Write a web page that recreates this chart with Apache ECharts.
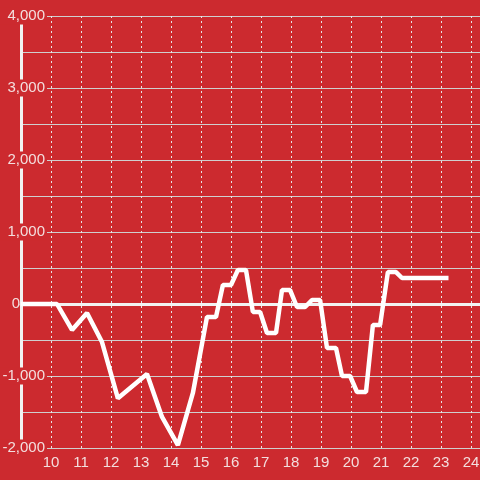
<!DOCTYPE html>
<html>
<head>
<meta charset="utf-8">
<script src="https://cdn.jsdelivr.net/npm/echarts@6/dist/echarts.min.js"></script>
<style>
  html, body { margin: 0; padding: 0; background: #cc2a2f; }
  #chart { width: 480px; height: 480px; }
</style>
</head>
<body>
<div id="chart"></div>
<script>
// hours of the day (x) and running balance (y)
const hours = [9, 10.2, 10.7, 11.2, 11.7, 12.23, 13.2, 13.7, 14.23, 14.73, 15.2, 15.5, 15.73, 16.0, 16.23, 16.5,
  16.73, 16.97, 17.2, 17.5, 17.7, 17.97, 18.2, 18.47, 18.7, 18.97, 19.2, 19.5, 19.7, 19.97, 20.2, 20.5,
  20.73, 20.97, 21.23, 21.5, 21.7, 23.25];
const balance = [0, 0, -361, -125, -528, -1310, -972, -1569, -1960, -1236, -180, -180, 264, 264, 472, 472,
  -111, -111, -403, -403, 194, 194, -42, -42, 56, 56, -611, -611, -1000, -1000, -1222, -1222,
  -292, -292, 444, 444, 361, 361];

const bg = '#cc2a2f';
const textColor = '#f3dede';

const chart = echarts.init(document.getElementById('chart'));

chart.setOption({
  backgroundColor: bg,
  animation: false,
  textStyle: { fontFamily: 'Liberation Sans' },
  grid: { left: 21, right: -21, top: 16, bottom: 32, containLabel: false, outerBoundsMode: 'none' },
  xAxis: {
    type: 'value',
    min: 9,
    max: 25,
    interval: 1,
    axisLine: { onZero: true, lineStyle: { color: '#f2f2f2', width: 3 } },
    axisTick: { show: false },
    axisLabel: {
      color: textColor,
      fontSize: 15,
      margin: 7,
      showMinLabel: false,
      showMaxLabel: false
    },
    splitLine: {
      show: true,
      lineStyle: { color: '#e6e6e6', width: 1, type: [2, 3] }
    }
  },
  yAxis: {
    type: 'value',
    min: -2000,
    max: 4000,
    interval: 1000,
    axisLine: { show: true, lineStyle: { color: '#f2f2f2', width: 3 } },
    axisTick: { show: false },
    axisLabel: {
      margin: -26,
      formatter: function (v) {
        if (v === 0) return '{z|0}{s|}';
        return '{a|' + v.toLocaleString('en-US') + '}';
      },
      rich: {
        a: {
          color: textColor,
          fontSize: 15,
          lineHeight: 15,
          backgroundColor: bg,
          padding: [1, 2, 1, 22]
        },
        z: { color: textColor, fontSize: 15, lineHeight: 15 },
        s: { width: 27, height: 15 }
      }
    },
    splitLine: { show: true, lineStyle: { color: '#cfcfcf', width: 1 } },
    minorTick: { show: false, splitNumber: 2 },
    minorSplitLine: { show: true, lineStyle: { color: '#cfcfcf', width: 1 } }
  },
  series: [{
    type: 'line',
    data: hours.map((h, i) => [h, balance[i]]),
    showSymbol: false,
    lineStyle: { color: '#ffffff', width: 4.5 },
    z: 3
  }]
});
</script>
</body>
</html>
